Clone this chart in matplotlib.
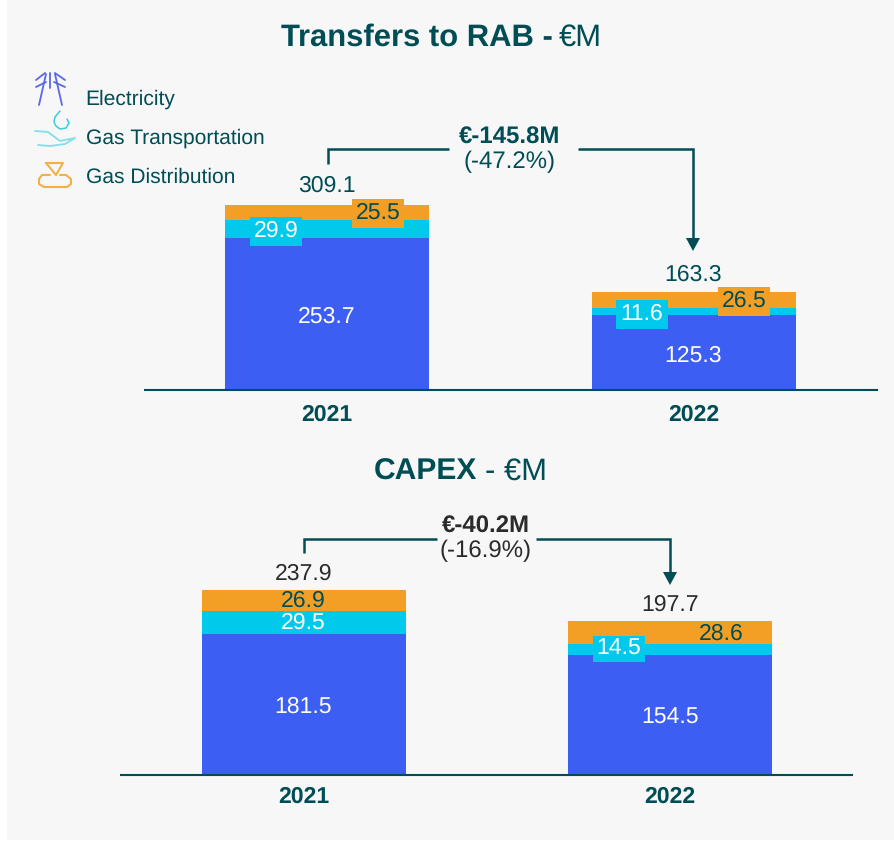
import matplotlib
matplotlib.use("Agg")
import matplotlib.pyplot as plt
from matplotlib.patches import Rectangle, Polygon

plt.rcParams['font.family'] = ['Liberation Sans', 'DejaVu Sans']
plt.rcParams['text.hinting'] = 'no_hinting'
plt.rcParams['text.hinting_factor'] = 1

W, H = 894, 841
years = ['2021', '2022']
electricity_rab = [253.7, 125.3]
transport_rab = [29.9, 11.6]
distribution_rab = [25.5, 26.5]
totals_rab = [309.1, 163.3]
electricity_capex = [181.5, 154.5]
transport_capex = [29.5, 14.5]
distribution_capex = [26.9, 28.6]
totals_capex = [237.9, 197.7]
legend_names = ['Electricity', 'Gas Transportation', 'Gas Distribution']

BLUE, CYAN, ORANGE = '#3D5EF2', '#00C9EC', '#F39F26'
TEAL, DARK = '#004D55', '#2B2B2B'
VALUE_FS = 16.8

fig = plt.figure(figsize=(W / 100, H / 100), dpi=100, facecolor='white')
bg = fig.add_axes([0, 0, 1, 1], zorder=0)
bg.set_xlim(0, W); bg.set_ylim(H, 0); bg.axis('off')
bg.add_patch(Rectangle((7, 0), W - 7, 840, fc='#F7F7F7', ec='none'))
ov = fig.add_axes([0, 0, 1, 1], zorder=5)
ov.set_xlim(0, W); ov.set_ylim(H, 0); ov.axis('off')
ov.patch.set_alpha(0)


def panel(x0, x1, base, c0, scale, elec, trans, dist, pad):
    unit = 366.5
    ax = fig.add_axes([x0 / W, 1 - base / H, (x1 - x0) / W, 200 / H], zorder=3)
    ax.set_xlim((x0 - c0) / unit, (x1 - c0) / unit)
    ax.set_ylim(0, 200 / scale)
    ax.patch.set_alpha(0)
    for s in ['top', 'left', 'right']:
        ax.spines[s].set_visible(False)
    ax.spines['bottom'].set_color(TEAL)
    ax.spines['bottom'].set_linewidth(1.5)
    ax.spines['bottom'].set_capstyle('butt')
    ax.spines['bottom'].set_zorder(5)
    ax.set_yticks([])
    ax.set_xticks([0, 1], years)
    ax.tick_params(axis='x', length=0, pad=pad)
    for t in ax.get_xticklabels():
        t.set_fontsize(16.8); t.set_fontweight('bold'); t.set_color(TEAL)
    xs = [0, 1]
    w = 204 / unit
    bottoms2 = [a + b for a, b in zip(elec, trans)]
    ax.bar(xs, elec, w, color=BLUE, edgecolor='none')
    ax.bar(xs, trans, w, bottom=elec, color=CYAN, edgecolor='none')
    ax.bar(xs, dist, w, bottom=bottoms2, color=ORANGE, edgecolor='none')
    return ax


def val(x, y, s, color='white', bg=None, w=52, h=29):
    if bg:
        ov.add_patch(Rectangle((x - w / 2, y - h / 2), w, h, fc=bg, ec='none', zorder=3))
    ov.text(x, y, s, color=color, fontsize=VALUE_FS, ha='center', va='center', zorder=4)


def connector(xl, xr, ytop, ystart, yarrow, xgap0, xgap1):
    kw = dict(color=TEAL, lw=1.8, solid_capstyle='butt', solid_joinstyle='miter', zorder=2)
    ov.plot([xl, xl, xgap0], [ystart, ytop, ytop], **kw)
    ov.plot([xgap1, xr, xr], [ytop, ytop, yarrow - 12], **kw)
    ov.add_patch(Polygon([(xr - 7, yarrow - 13), (xr + 7, yarrow - 13), (xr, yarrow)], fc=TEAL, ec='none', zorder=2))


# Top panel
panel(144, 878, 390, 327, 185 / 309.1, electricity_rab, transport_rab, distribution_rab, 10)
ov.text(553, 38, 'Transfers to RAB -', fontsize=22.1, fontweight='bold', color=TEAL, ha='right', va='center')
ov.text(559, 38, '€M', fontsize=22.1, color=TEAL, ha='left', va='center')
connector(327.5, 693, 149, 164, 251, 449, 578)
ov.text(510, 138, '€-145.8M', fontsize=17, fontweight='bold', color=TEAL, ha='center', va='center')
ov.text(510, 162, '(-47.2%)', fontsize=17, color=TEAL, ha='center', va='center')
val(327, 186, f'{totals_rab[0]}', TEAL)
val(693.5, 274.5, f'{totals_rab[1]}', TEAL)
val(327, 316.5, f'{electricity_rab[0]}')
val(693.5, 355.5, f'{electricity_rab[1]}')
val(276, 231, f'{transport_rab[0]}', 'white', CYAN)
val(642, 314, f'{transport_rab[1]}', 'white', CYAN)
val(378, 213, f'{distribution_rab[0]}', TEAL, ORANGE)
val(744, 301, f'{distribution_rab[1]}', TEAL, ORANGE)

# Bottom panel
panel(120, 853, 775, 303.5, 185 / 237.9, electricity_capex, transport_capex, distribution_capex, 8)
ov.text(477, 472, 'CAPEX', fontsize=21.6, fontweight='bold', color=TEAL, ha='right', va='center')
ov.text(485, 472, '- €M', fontsize=22.1, color=TEAL, ha='left', va='center')
connector(303.5, 670, 539, 553, 585, 437, 536)
ov.text(486, 527, '€-40.2M', fontsize=17, fontweight='bold', color=DARK, ha='center', va='center')
ov.text(486, 551, '(-16.9%)', fontsize=17, color=DARK, ha='center', va='center')
val(303.5, 573.5, f'{totals_capex[0]}', DARK)
val(670, 604.5, f'{totals_capex[1]}', DARK)
val(303.5, 706.5, f'{electricity_capex[0]}')
val(670, 717.5, f'{electricity_capex[1]}')
val(303.5, 623, f'{transport_capex[0]}')
val(619, 649, f'{transport_capex[1]}', 'white', CYAN, 52, 26)
val(303.5, 601, f'{distribution_capex[0]}', TEAL)
val(721, 634, f'{distribution_capex[1]}', TEAL)

# Legend labels
for y, s in zip([99, 138, 177], legend_names):
    ov.text(85.5, y, s, fontsize=15.3, color=TEAL, ha='left', va='center')

# Legend icons
lw = dict(solid_capstyle='round', zorder=2)
for seg in [[(46, 74), (39, 105)], [(50, 73), (50, 88)], [(55, 74), (62, 105)],
            [(36, 80), (45, 73)], [(36, 87), (46, 82)], [(65, 80), (55, 73)], [(65, 87), (54, 82)]]:
    ov.plot(*zip(*seg), color='#5A67E8', lw=1.3, **lw)
ov.plot([60, 55, 54, 56, 60, 66, 69, 67], [111, 117, 122, 126, 129, 128, 123, 119], color='#35CFDC', lw=1.1, **lw)
ov.plot([35, 48, 60, 75, 65, 50, 38], [131, 132, 141, 138, 144, 146, 145], color='#7FE0EA', lw=1.3, **lw)
ov.plot([46, 63, 56, 46], [163, 163, 175, 163], color='#F2B04A', lw=1.5, **lw)
ov.plot([50, 42, 39, 39, 44, 67, 71, 71, 66, 60], [175, 175, 179, 184, 187, 187, 184, 179, 175, 175], color='#F2B04A', lw=1.5, **lw)

fig.savefig('out.png', dpi=100, facecolor=fig.get_facecolor())
